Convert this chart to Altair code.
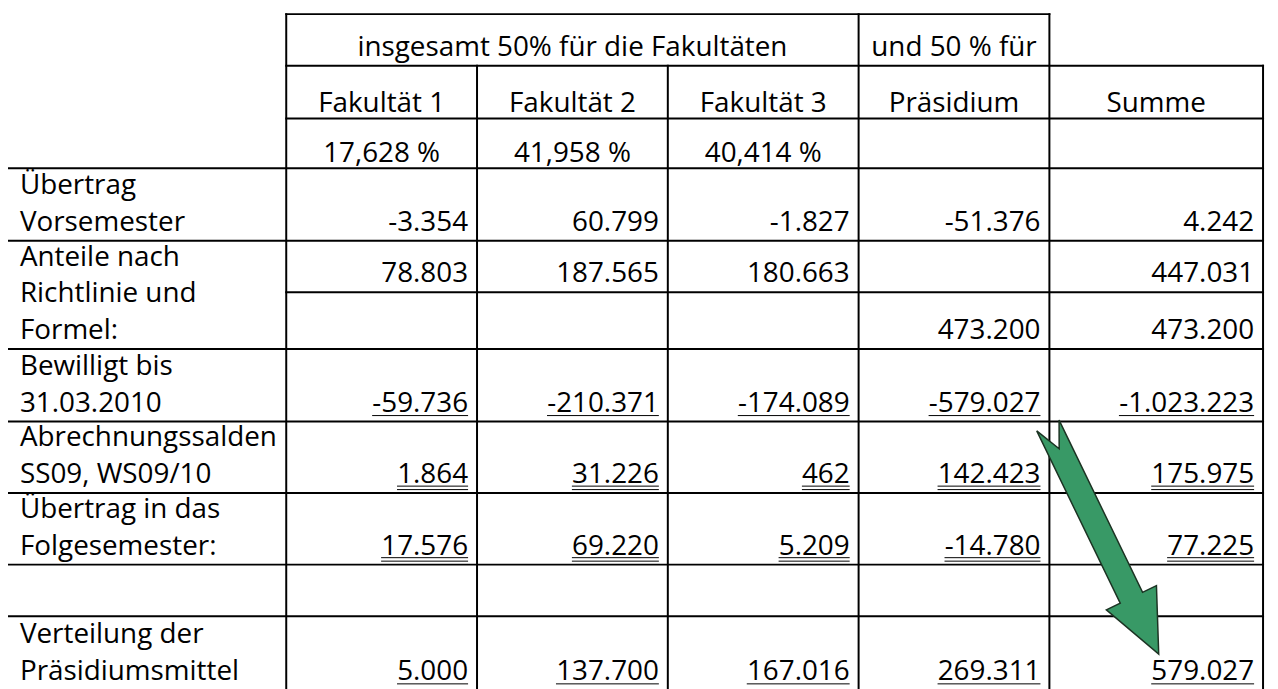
import math
import altair as alt
import pandas as pd

# ---------------- data ----------------
columns = ["Fakultät 1", "Fakultät 2", "Fakultät 3", "Präsidium", "Summe"]
group_header_left = "insgesamt 50% für die Fakultäten"
group_header_right = "und 50 % für"
shares = [17.628, 41.958, 40.414, None, None]

row_labels = [
    ["Übertrag", "Vorsemester"],
    ["Anteile nach", "Richtlinie und", "Formel:"],
    ["Bewilligt bis", "31.03.2010"],
    ["Abrechnungssalden", "SS09, WS09/10"],
    ["Übertrag in das", "Folgesemester:"],
    [],
    ["Verteilung der", "Präsidiumsmittel"],
]

uebertrag_vorsemester = [-3354, 60799, -1827, -51376, 4242]
anteile_richtlinie = [78803, 187565, 180663, None, 447031]
anteile_formel = [None, None, None, 473200, 473200]
bewilligt = [-59736, -210371, -174089, -579027, -1023223]
abrechnungssalden = [1864, 31226, 462, 142423, 175975]
uebertrag_folgesemester = [17576, 69220, 5209, -14780, 77225]
verteilung = [5000, 137700, 167016, 269311, 579027]

# ---------------- layout (page pixels) ----------------
W, H = 1270, 681
OX, OY = 8, 8
COL = [6, 288, 480, 672, 864, 1056, 1271]
ROW = [12, 64, 117, 167, 240, 349, 422, 494, 566, 618, 692]
SUB = 292
FONT = "Open Sans"
FS = 28
LINE = 37
PAD_R = 9
PAD_L = 14

# value rows: (values, bottom of (sub)row, underline count)
value_rows = [
    (uebertrag_vorsemester, ROW[4], 0),
    (anteile_richtlinie, SUB, 0),
    (anteile_formel, ROW[5], 0),
    (bewilligt, ROW[6], 1),
    (abrechnungssalden, ROW[7], 2),
    (uebertrag_folgesemester, ROW[8], 2),
    (verteilung, ROW[10], 1),
]

def fmt_de(v):
    s = f"{abs(v):,}".replace(",", ".")
    return ("-" if v < 0 else "") + s

def fmt_pct(p):
    return f"{p:.3f}".replace(".", ",") + " %"

ADV = {"-": 0.322, ".": 0.266, ",": 0.25}
def text_w(s):
    return sum(ADV.get(c, 0.572) for c in s) * FS

# ---------------- grid lines ----------------
lines = []
def hl(y, x1, x2):
    lines.append(dict(x=x1 - 1, x2=x2 + 1, y=y, y2=y))
def vl(x, y1, y2):
    lines.append(dict(x=x, x2=x, y=y1 - 1, y2=y2 + 1))

hl(ROW[0], COL[1], COL[5])
hl(ROW[1], COL[1], COL[6])
hl(ROW[2], COL[1], COL[6])
for r in ROW[3:-1]:
    hl(r, COL[0], COL[6])
hl(SUB, COL[1], COL[6])
bottom = ROW[-1] + 20
vl(COL[0], ROW[3], bottom)
vl(COL[1], ROW[0], bottom)
vl(COL[2], ROW[1], bottom)
vl(COL[3], ROW[1], bottom)
vl(COL[4], ROW[0], bottom)
vl(COL[5], ROW[0], bottom)
vl(COL[6], ROW[1], bottom)
lines_df = pd.DataFrame(lines)

# ---------------- texts ----------------
left_t, center_t, right_t, ul = [], [], [], []
center_t.append(dict(x=(COL[1] + COL[4]) / 2, y=ROW[1] - 10, t=group_header_left))
center_t.append(dict(x=(COL[4] + COL[5]) / 2, y=ROW[1] - 10, t=group_header_right))
for i, c in enumerate(columns):
    cx = (COL[i + 1] + COL[i + 2]) / 2
    center_t.append(dict(x=cx, y=ROW[2] - 7, t=c))
    if shares[i] is not None:
        center_t.append(dict(x=cx, y=ROW[3] - 6, t=fmt_pct(shares[i])))

row_bottoms = [ROW[4], ROW[5], ROW[6], ROW[7], ROW[8], ROW[9], ROW[10]]
for lab, b in zip(row_labels, row_bottoms):
    n = len(lab)
    for k, s in enumerate(lab):
        left_t.append(dict(x=COL[0] + PAD_L, y=b - 10 - (n - 1 - k) * LINE, t=s))

for vals, b, u in value_rows:
    for i, v in enumerate(vals):
        if v is None:
            continue
        s = fmt_de(v)
        xr = COL[i + 2] - PAD_R
        base = b - 10
        right_t.append(dict(x=xr, y=base, t=s))
        w = text_w(s)
        if u == 1:
            ul.append(dict(x=xr - w, x2=xr, y=base + 4, y2=base + 4))
        elif u == 2:
            ul.append(dict(x=xr - w, x2=xr, y=base + 3, y2=base + 3))
            ul.append(dict(x=xr - w, x2=xr, y=base + 6.5, y2=base + 6.5))

# ---------------- arrow ----------------
TAIL = (1054.5, 426.0)
TIP = (1166.0, 656.0)
hw, HW, hlen, notch = 12.5, 28.0, 63.0, 26.0
dx, dy = TIP[0] - TAIL[0], TIP[1] - TAIL[1]
L = math.hypot(dx, dy)
ux, uy = dx / L, dy / L
nx, ny = uy, -ux
def P(a, b):
    return (TAIL[0] + a * ux + b * nx, TAIL[1] + a * uy + b * ny)
pts = [P(0, hw), P(L - hlen, hw), P(L - hlen, HW), TIP, P(L - hlen, -HW),
       P(L - hlen, -hw), P(0, -hw), P(notch, 0)]
cx = sum(p[0] for p in pts) / len(pts)
cy = sum(p[1] for p in pts) / len(pts)
path = "M " + " L ".join(f"{p[0]-cx:.2f} {p[1]-cy:.2f}" for p in pts) + " Z"
arrow_df = pd.DataFrame([dict(x=cx, y=cy)])

# ---------------- chart ----------------
xs = alt.Scale(domain=[OX, OX + W], nice=False, zero=False)
ys = alt.Scale(domain=[OY, OY + H], nice=False, zero=False, reverse=True)
X = alt.X("x:Q", scale=xs, axis=None)
Y = alt.Y("y:Q", scale=ys, axis=None)

grid = alt.Chart(lines_df).mark_rule(color="black", strokeWidth=2).encode(
    x=X, x2="x2:Q", y=Y, y2="y2:Q")
under = alt.Chart(pd.DataFrame(ul)).mark_rule(color="black", strokeWidth=1).encode(
    x=X, x2="x2:Q", y=Y, y2="y2:Q")

def txt(rows, align):
    return alt.Chart(pd.DataFrame(rows)).mark_text(
        align=align, baseline="alphabetic", font=FONT, fontSize=FS, color="black"
    ).encode(x=X, y=Y, text="t:N")

arrow = alt.Chart(arrow_df).mark_point(
    shape=path, size=4, filled=True, fill="#389966", stroke="#1c3323",
    strokeWidth=1.5, opacity=1
).encode(x=X, y=Y)

chart = alt.layer(
    grid, under, txt(left_t, "left"), txt(center_t, "center"), txt(right_t, "right"), arrow
).properties(
    width=W, height=H, padding=0,
    autosize=alt.AutoSizeParams(type="none"),
    background="white",
).configure_view(stroke=None)

chart.save("out.html", embed_options={"renderer": "svg", "actions": False})
